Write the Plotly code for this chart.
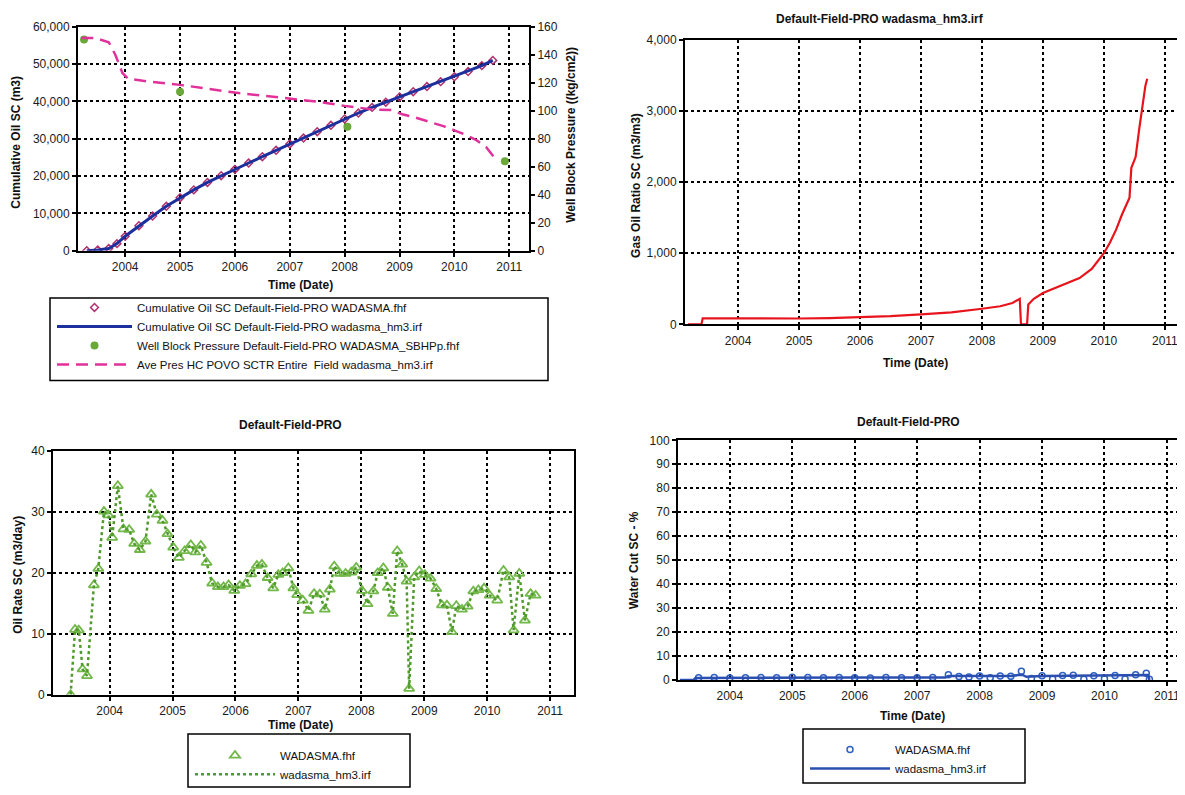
import plotly.graph_objects as go

OFF = 8            # page body margin of the html page
FW, FH = 1177, 787  # figure size so that figure + margin fills the 1185x795 window
FONT = "Liberation Sans"

# ---------------- data ----------------
year_ticks = [2004, 2005, 2006, 2007, 2008, 2009, 2010, 2011]
year_labels = ["2004", "2005", "2006", "2007", "2008", "2009", "2010", "2011"]

# Cumulative oil (m3)
cum_years = [2003.30, 2003.50, 2003.70, 2003.85, 2004.00, 2004.25, 2004.50, 2004.75,
             2005.00, 2005.25, 2005.50, 2005.75, 2006.00, 2006.25, 2006.50, 2006.75,
             2007.00, 2007.25, 2007.50, 2007.75, 2008.00, 2008.25, 2008.50, 2008.75,
             2009.00, 2009.25, 2009.50, 2009.75, 2010.00, 2010.25, 2010.50, 2010.70]
cum_oil = [0, 200, 600, 1900, 3900, 6700, 9300, 11900,
           14200, 16300, 18300, 20100, 21800, 23500, 25200, 26900,
           28600, 30200, 31900, 33600, 35300, 36900, 38400, 39800,
           41200, 42600, 44000, 45300, 46600, 48000, 49600, 51000]

# Average reservoir pressure (kg/cm2)
pres_years = [2003.20, 2003.45, 2003.70, 2003.82, 2003.95, 2004.05, 2004.40, 2005.00,
              2006.00, 2007.00, 2007.50, 2008.00, 2008.50, 2008.85, 2009.05, 2009.30,
              2009.56, 2009.80, 2010.00, 2010.20, 2010.40, 2010.58, 2010.72]
pres = [152, 152, 149, 140, 127, 123, 121, 118.5,
        113, 109, 106.5, 103.5, 101, 100.5, 97.5, 95,
        92, 89, 86, 83, 79, 74, 67]

# Well block pressure measurements
wbp_years = [2003.25, 2005.00, 2008.05, 2010.92]
wbp = [151, 113.5, 88.5, 64]

# Gas oil ratio (m3/m3)
gor_years = [2003.18, 2003.40, 2003.42, 2004.00, 2005.00, 2005.50, 2006.00, 2006.50,
             2007.00, 2007.50, 2008.00, 2008.30, 2008.50, 2008.62, 2008.64, 2008.74,
             2008.76, 2008.85, 2009.00, 2009.20, 2009.40, 2009.60, 2009.80, 2010.00,
             2010.10, 2010.20, 2010.30, 2010.38, 2010.42, 2010.45, 2010.52, 2010.58,
             2010.64, 2010.68, 2010.71]
gor = [0, 0, 85, 82, 83, 88, 100, 115,
       140, 170, 220, 255, 300, 360, 0, 0,
       280, 360, 440, 510, 580, 650, 780, 1000,
       1150, 1330, 1550, 1720, 1780, 2200, 2350, 2750,
       3150, 3350, 3450]

# Oil rate (m3/day)
rate_years = [2003.38, 2003.45, 2003.51, 2003.57, 2003.64, 2003.75, 2003.82, 2003.91,
              2003.98, 2004.04, 2004.13, 2004.22, 2004.31, 2004.39, 2004.48, 2004.57,
              2004.66, 2004.75, 2004.84, 2004.92, 2005.01, 2005.10, 2005.19, 2005.29,
              2005.36, 2005.45, 2005.54, 2005.63, 2005.72, 2005.81, 2005.89, 2005.98,
              2006.07, 2006.16, 2006.25, 2006.34, 2006.42, 2006.51, 2006.60, 2006.68,
              2006.75, 2006.84, 2006.92, 2006.98, 2007.07, 2007.16, 2007.25, 2007.34,
              2007.42, 2007.50, 2007.57, 2007.66, 2007.75, 2007.84, 2007.92, 2008.01,
              2008.10, 2008.19, 2008.26, 2008.35, 2008.42, 2008.50, 2008.57, 2008.65,
              2008.72, 2008.76, 2008.84, 2008.92, 2009.01, 2009.10, 2009.19, 2009.28,
              2009.36, 2009.44, 2009.51, 2009.60, 2009.69, 2009.78, 2009.86, 2009.95,
              2010.04, 2010.16, 2010.26, 2010.35, 2010.42, 2010.51, 2010.60, 2010.69,
              2010.77]
oil_rate = [0.0, 10.7, 10.6, 4.2, 3.1, 18.0, 20.7, 30.1,
            29.5, 25.8, 34.3, 27.2, 27.1, 24.8, 23.8, 25.2,
            32.9, 29.6, 28.6, 26.4, 24.2, 22.5, 23.6, 24.6,
            23.4, 24.5, 21.7, 18.3, 17.7, 17.7, 18.0, 17.1,
            17.9, 18.2, 19.8, 21.2, 21.4, 19.2, 17.5, 19.7,
            20.0, 20.8, 17.5, 16.4, 15.5, 13.8, 16.6, 16.5,
            14.0, 17.3, 21.1, 19.9, 19.9, 20.1, 20.9, 17.1,
            14.9, 17.0, 20.0, 20.8, 17.6, 13.3, 23.6, 21.4,
            18.6, 1.0, 19.3, 20.3, 19.7, 19.1, 17.4, 14.7,
            14.7, 10.3, 14.6, 14.0, 14.5, 17.0, 17.2, 17.5,
            16.3, 15.5, 20.4, 19.3, 10.6, 19.9, 12.2, 16.6,
            16.3]

# Water cut (%)
wc_hist_years = [2003.50, 2003.75, 2004.00, 2004.25, 2004.50, 2004.75, 2005.00, 2005.25,
                 2005.50, 2005.75, 2006.00, 2006.25, 2006.50, 2006.75, 2007.00, 2007.25,
                 2007.50, 2007.67, 2007.83, 2008.00, 2008.17, 2008.33, 2008.50, 2008.67,
                 2008.83, 2009.00, 2009.17, 2009.33, 2009.50, 2009.67, 2009.83, 2010.00,
                 2010.17, 2010.33, 2010.50, 2010.67, 2010.72]
wc_hist = [0.9, 1.0, 0.8, 0.9, 1.0, 0.9, 1.1, 1.0,
           0.9, 1.0, 0.9, 0.8, 1.0, 0.9, 0.9, 1.0,
           2.2, 1.4, 1.2, 1.6, 0.9, 1.7, 1.5, 3.6,
           0.6, 1.8, 0.4, 1.9, 2.0, 0.3, 1.8, 0.5,
           1.9, 0.4, 2.2, 2.8, 0.3]
wc_sim_years = [2003.20, 2003.42, 2003.45, 2004.00, 2005.00, 2006.00, 2007.00, 2007.45,
                2007.50, 2008.00, 2008.50, 2008.68, 2008.75, 2009.00, 2009.50, 2010.00,
                2010.50, 2010.70, 2010.72]
wc_sim = [0, 0, 0.8, 0.9, 1.0, 1.0, 1.0, 1.0,
          1.6, 1.5, 1.7, 2.2, 1.3, 1.6, 1.8, 1.7,
          1.9, 2.1, 0]

# ---------------- helpers (window pixel -> paper fraction) ----------------
def px_x(p):
    return min(1.0, (p - OFF) / FW)

def px_y(p):
    return 1 - (p - OFF) / FH

tick_font = dict(family=FONT, size=12, color="#1a1a1a")

def xaxis_cfg(dom, rng, anchor):
    return dict(domain=dom, range=rng, anchor=anchor, tickmode="array",
                tickvals=year_ticks, ticktext=year_labels, showgrid=True,
                gridcolor="black", gridwidth=2, griddash="dot", showline=True,
                linecolor="black", linewidth=2, mirror=True, ticks="outside",
                ticklen=4, tickwidth=2, tickcolor="black", zeroline=False,
                tickfont=tick_font)

def yaxis_cfg(dom, rng, dtick, anchor, fmt="", mirror=True):
    return dict(domain=dom, range=rng, anchor=anchor, dtick=dtick, tick0=0,
                tickformat=fmt, showgrid=True, gridcolor="black", gridwidth=2,
                griddash="dot", showline=True, linecolor="black", linewidth=2,
                mirror=mirror, ticks="outside", ticklen=4, tickwidth=2,
                tickcolor="black", zeroline=False, tickfont=tick_font)

fig = go.Figure()

# ---- top-left: cumulative oil + pressure ----
fig.add_trace(go.Scatter(
    x=cum_years, y=cum_oil, mode="markers", xaxis="x", yaxis="y",
    name="Cumulative Oil SC Default-Field-PRO WADASMA.fhf",
    marker=dict(symbol="diamond-open", size=6, color="#b0306e", line=dict(width=1.5)),
    legend="legend"))
fig.add_trace(go.Scatter(
    x=cum_years, y=cum_oil, mode="lines", xaxis="x", yaxis="y",
    name="Cumulative Oil SC Default-Field-PRO wadasma_hm3.irf",
    line=dict(color="#1c2f9c", width=3), legend="legend"))
fig.add_trace(go.Scatter(
    x=wbp_years, y=wbp, mode="markers", xaxis="x", yaxis="y2",
    name="Well Block Pressure Default-Field-PRO WADASMA_SBHPp.fhf",
    marker=dict(symbol="circle", size=8, color="#6aa83a"), legend="legend"))
fig.add_trace(go.Scatter(
    x=pres_years, y=pres, mode="lines", xaxis="x", yaxis="y2",
    name="Ave Pres HC POVO SCTR Entire  Field wadasma_hm3.irf",
    line=dict(color="#e0329a", width=2.5, dash="12px,7px"), legend="legend"))

# ---- top-right: GOR ----
fig.add_trace(go.Scatter(
    x=gor_years, y=gor, mode="lines", xaxis="x2", yaxis="y3",
    name="Gas Oil Ratio", showlegend=False,
    line=dict(color="#e8141c", width=2.2)))

# ---- bottom-left: oil rate ----
fig.add_trace(go.Scatter(
    x=rate_years, y=oil_rate, mode="markers", xaxis="x3", yaxis="y4",
    name="WADASMA.fhf",
    marker=dict(symbol="triangle-up-open", size=9, color="#72b84a", line=dict(width=1.8)),
    legend="legend2"))
fig.add_trace(go.Scatter(
    x=rate_years, y=oil_rate, mode="lines", xaxis="x3", yaxis="y4",
    name="wadasma_hm3.irf",
    line=dict(color="#4f9a2a", width=2.5, dash="dot"), legend="legend2"))

# ---- bottom-right: water cut ----
fig.add_trace(go.Scatter(
    x=wc_hist_years, y=wc_hist, mode="markers", xaxis="x4", yaxis="y5",
    name="WADASMA.fhf",
    marker=dict(symbol="circle-open", size=6, color="#2f5fc0", line=dict(width=1.5)),
    legend="legend3"))
fig.add_trace(go.Scatter(
    x=wc_sim_years, y=wc_sim, mode="lines", xaxis="x4", yaxis="y5",
    name="wadasma_hm3.irf",
    line=dict(color="#2a4fb0", width=2.5), legend="legend3"))

# ---------------- layout ----------------
tl_x = [px_x(78), px_x(529)]
tl_y = [px_y(248), px_y(20)]
tr_x = [px_x(685), 1.0]
tr_y = [px_y(323), px_y(33)]
bl_x = [px_x(53), px_x(574)]
bl_y = [px_y(700), px_y(452)]
br_x = [px_x(678), 1.0]
br_y = [px_y(685), px_y(441)]

leg_font = dict(family=FONT, size=11.5, color="#111")

layout = dict(
    width=FW, height=FH, margin=dict(l=0, r=0, t=0, b=0),
    paper_bgcolor="white", plot_bgcolor="white",
    xaxis=xaxis_cfg(tl_x, [2003.14, 2011.36], "y"),
    yaxis=yaxis_cfg(tl_y, [0, 60000], 10000, "x", fmt=","),
    yaxis2=dict(overlaying="y", side="right", anchor="x", range=[0, 160], dtick=20,
                showgrid=False, showline=True, linecolor="black", linewidth=2,
                ticks="outside", ticklen=4, tickwidth=2, tickcolor="black",
                zeroline=False, tickfont=tick_font),
    xaxis2=xaxis_cfg(tr_x, [2003.13, 2011.33], "y3"),
    yaxis3=yaxis_cfg(tr_y, [0, 4000], 1000, "x2", fmt=",", mirror=False),
    xaxis3=xaxis_cfg(bl_x, [2003.1, 2011.38], "y4"),
    yaxis4=yaxis_cfg(bl_y, [0, 40], 10, "x3"),
    xaxis4=xaxis_cfg(br_x, [2003.17, 2011.29], "y5"),
    yaxis5=yaxis_cfg(br_y, [0, 100], 10, "x4", mirror=False),
    legend=dict(x=px_x(52), y=px_y(291), xanchor="left", yanchor="top",
                bgcolor="rgba(0,0,0,0)", borderwidth=0, font=leg_font,
                itemwidth=75, tracegroupgap=0),
    legend2=dict(x=px_x(190), y=px_y(747), xanchor="left", yanchor="top",
                 bgcolor="rgba(0,0,0,0)", borderwidth=0, font=leg_font,
                 itemwidth=80),
    legend3=dict(x=px_x(805), y=px_y(741), xanchor="left", yanchor="top",
                 bgcolor="rgba(0,0,0,0)", borderwidth=0, font=leg_font,
                 itemwidth=80),
    showlegend=True,
)
fig.update_layout(**layout)

# legend boxes
for (x0, y0, x1, y1) in [(50, 296, 548, 380), (188, 740, 410, 794), (803, 735, 1025, 790)]:
    fig.add_shape(type="rect", xref="paper", yref="paper",
                  x0=px_x(x0), x1=px_x(x1), y0=px_y(y1), y1=px_y(y0),
                  line=dict(color="black", width=1.5), fillcolor="rgba(0,0,0,0)")

bold = dict(family=FONT, size=12, color="#111", weight="bold")

def ann(text, x, y, angle=0, font=bold):
    fig.add_annotation(text=text, xref="paper", yref="paper", x=px_x(x), y=px_y(y),
                       showarrow=False, textangle=angle, font=font,
                       xanchor="center", yanchor="middle")

# titles
ann("Default-Field-PRO wadasma_hm3.irf", 880, 12)
ann("Default-Field-PRO", 290, 425)
ann("Default-Field-PRO", 908, 422)

# x axis titles
ann("Time (Date)", 300, 283)
ann("Time (Date)", 915, 362)
ann("Time (Date)", 300, 731)
ann("Time (Date)", 912, 722)

# y axis titles
ann("Cumulative Oil SC (m3)", 16, 138, angle=-90)
ann("Well Block Pressure ((kg/cm2))", 571, 130, angle=-90)
ann("Gas Oil Ratio SC (m3/m3)", 636, 182, angle=-90)
ann("Oil Rate SC (m3/day)", 18, 578, angle=-90)
ann("Water Cut SC - %", 634, 563, angle=-90)

fig.write_html("out.html")
